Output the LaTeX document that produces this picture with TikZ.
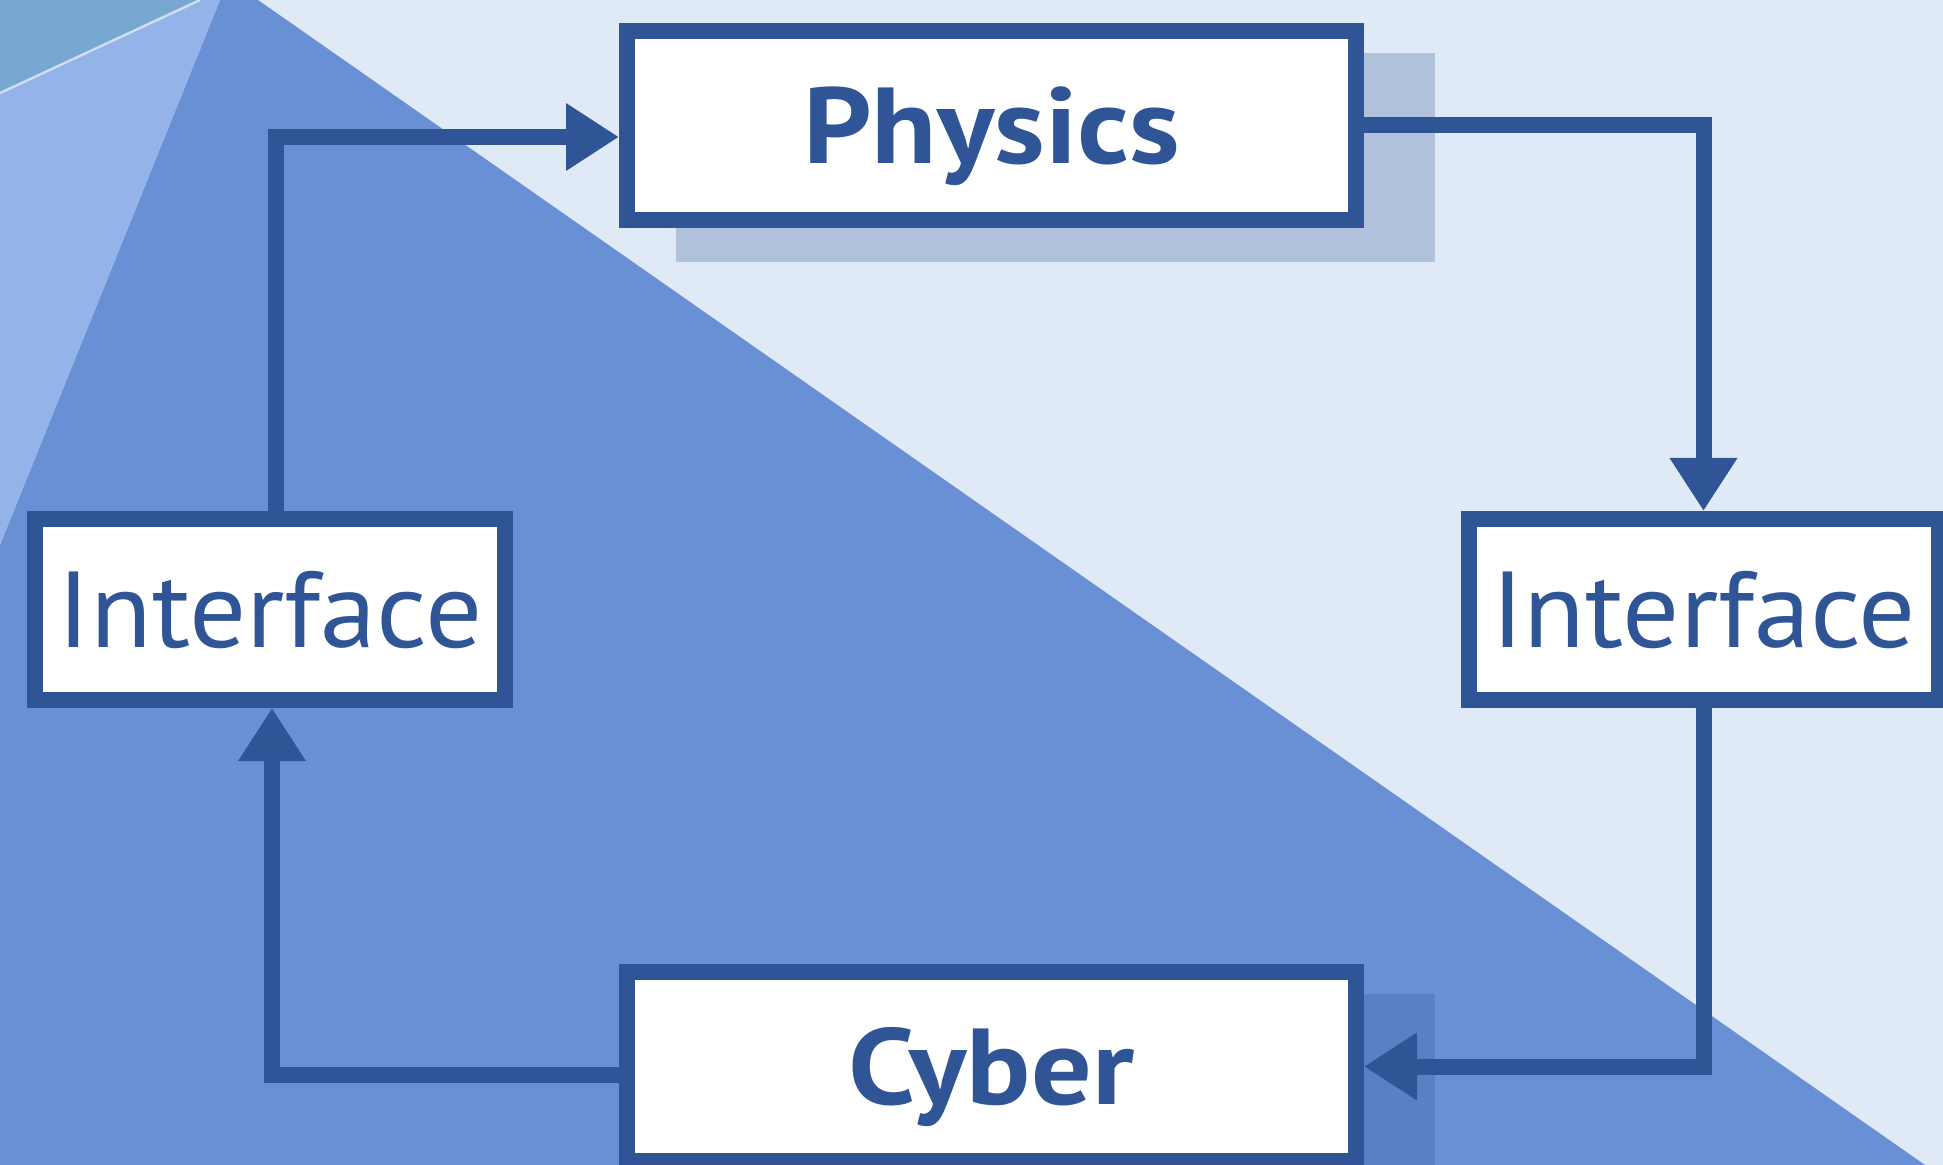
\documentclass[tikz,border=0pt]{standalone}
\usepackage{fontspec}
\setmainfont{PT Sans}[FakeStretch=1.045, BoldFeatures={FakeStretch=1.11}]
\usetikzlibrary{arrows.meta}
\definecolor{bgl}{HTML}{E0EAF6}
\definecolor{bgd}{HTML}{6990D4}
\definecolor{wedge}{HTML}{94B3E8}
\definecolor{corner}{HTML}{78A8D2}
\definecolor{bord}{HTML}{2F5597}
\begin{document}
\begin{tikzpicture}[x=0.5pt,y=-0.5pt,
  box/.style={draw=bord, line width=8pt, fill=white, inner sep=0pt,
    text height=38pt, text depth=0pt, text=bord, align=center},
  bigbox/.style={box, minimum width=364.5pt, minimum height=94.5pt,
    font=\fontsize{54}{60}\selectfont\bfseries},
  ifbox/.style={box, minimum width=235pt, minimum height=90.5pt,
    font=\fontsize{54}{60}\selectfont},
  shadowbox/.style={fill=bord, fill opacity=0.27, draw=none},
  arr/.style={draw=bord, line width=8pt, line join=miter,
    -{Triangle[length=26.5pt,width=32pt]}}]
% background
\fill[bgl] (0,0) rectangle (1943,1165);
\useasboundingbox (0,0) rectangle (1943,1165);
\fill[bgd] (220,0) -- (258,0) -- (1925,1165) -- (0,1165) -- (0,545) -- cycle;
\fill[wedge] (0,93) -- (200,0) -- (220,0) -- (0,545) -- cycle;
\fill[corner] (0,0) -- (200,0) -- (0,93) -- cycle;
\draw[white, opacity=0.6, line width=1.2pt] (0,93) -- (200,0);
% shadows
\fill[shadowbox] (676,53) rectangle (1435,262);
\fill[shadowbox] (676,994) rectangle (1435,1200);
% nodes
\node[bigbox] (P) at (991.5,125.5) {Physics};
\node[bigbox] (C) at (991.5,1066.5) {Cyber};
\node[ifbox] (L) at (270,609.5) {Interface};
\node[ifbox] (R) at (1703.5,609.5) {Interface};
% connectors
\draw[arr] ([xshift=3pt]L.north) |- ([yshift=-5.75pt]P.west);
\draw[arr] (P.east) -| (R.north);
\draw[arr] (R.south) |- (C.east);
\draw[arr] ([yshift=-4pt]C.west) -| ([xshift=1pt]L.south);
\end{tikzpicture}
\end{document}
